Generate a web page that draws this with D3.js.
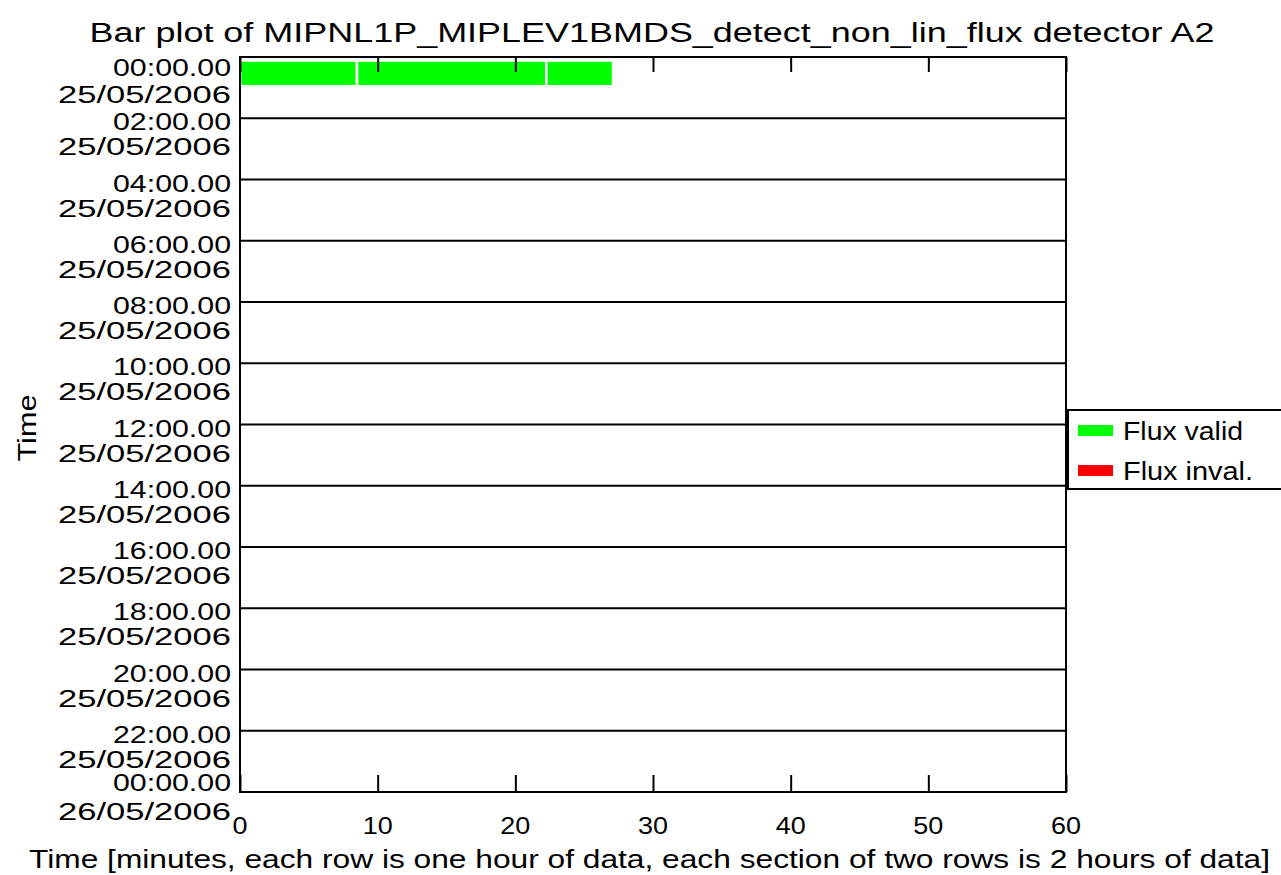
<!DOCTYPE html>
<html>
<head>
<meta charset="utf-8">
<script src="https://cdn.jsdelivr.net/npm/d3@7"></script>
<style>
  html, body { margin: 0; padding: 0; background: #fff; }
  svg text { font-family: "Liberation Sans", Arial, sans-serif; fill: #000; }
</style>
</head>
<body>
<svg id="chart" width="1281" height="875"></svg>
<script>
// ---- data ----
const chartTitle = "Bar plot of MIPNL1P_MIPLEV1BMDS_detect_non_lin_flux detector A2";
const xAxisTitle = "Time [minutes, each row is one hour of data, each section of two rows is 2 hours of data]";
const yAxisTitle = "Time";
const xTickValues = [0, 10, 20, 30, 40, 50, 60];
const xTickLabels = ["0", "10", "20", "30", "40", "50", "60"];
const sectionHours = [0, 2, 4, 6, 8, 10, 12, 14, 16, 18, 20, 22, 24];
const sectionTimeLabels = ["00:00.00", "02:00.00", "04:00.00", "06:00.00", "08:00.00", "10:00.00",
  "12:00.00", "14:00.00", "16:00.00", "18:00.00", "20:00.00", "22:00.00", "00:00.00"];
const sectionDateLabels = ["25/05/2006", "25/05/2006", "25/05/2006", "25/05/2006", "25/05/2006", "25/05/2006",
  "25/05/2006", "25/05/2006", "25/05/2006", "25/05/2006", "25/05/2006", "25/05/2006", "26/05/2006"];
// valid-flux segments: row (hour index), start minute, end minute
const validRows   = [0, 0, 0];
const validStarts = [0, 8.5, 22.25];
const validEnds   = [8.5, 22.25, 27.1];
// invalid-flux segments (none)
const invalidRows = [];
const invalidStarts = [];
const invalidEnds = [];
const legendLabels = ["Flux valid", "Flux inval."];
const legendColors = ["#00ff00", "#ff0000"];

// ---- layout ----
const svg = d3.select("#chart");
const L = 240, R = 1066, T = 57, B = 792;
const x = d3.scaleLinear().domain([0, 60]).range([L, R]);
const y = d3.scaleLinear().domain([0, 24]).range([T, B]);

// bars
function drawBars(rows, starts, ends, color) {
  const data = rows.map((r, i) => ({ r, s: starts[i], e: ends[i] }));
  svg.append("g").selectAll("rect").data(data).enter().append("rect")
    .attr("x", d => x(d.s))
    .attr("width", d => x(d.e) - x(d.s))
    .attr("y", d => y(d.r + 0.113))
    .attr("height", d => y(d.r + 0.955) - y(d.r + 0.113))
    .attr("fill", color)
    .attr("stroke", "#fff")
    .attr("stroke-width", 2.6);
}
drawBars(validRows, validStarts, validEnds, legendColors[0]);
drawBars(invalidRows, invalidStarts, invalidEnds, legendColors[1]);

// section lines
svg.append("g").selectAll("line").data(sectionHours.slice(1, -1)).enter().append("line")
  .attr("x1", L).attr("x2", R)
  .attr("y1", d => y(d)).attr("y2", d => y(d))
  .attr("stroke", "#000").attr("stroke-width", 2);

// x axes (top and bottom, inward ticks)
const bottomAxis = d3.axisBottom(x).tickValues(xTickValues).tickSize(-17).tickFormat("");
const topAxis = d3.axisTop(x).tickValues(xTickValues).tickSize(-15).tickFormat("");
const gb = svg.append("g").attr("transform", `translate(0,${B})`).call(bottomAxis);
const gt = svg.append("g").attr("transform", `translate(0,${T})`).call(topAxis);
[gb, gt].forEach(g => {
  g.select(".domain").remove();
  g.selectAll(".tick line").attr("stroke", "#000").attr("stroke-width", 2);
});

// plot border
svg.append("rect").attr("x", L).attr("y", T).attr("width", R - L).attr("height", B - T)
  .attr("fill", "none").attr("stroke", "#000").attr("stroke-width", 2);

// x tick labels
svg.append("g").selectAll("text").data(xTickValues).enter().append("text")
  .attr("x", d => x(d)).attr("y", 834)
  .attr("text-anchor", "middle")
  .attr("font-size", 24)
  .attr("textLength", (d, i) => xTickLabels[i].length * 15)
  .attr("lengthAdjust", "spacingAndGlyphs")
  .text((d, i) => xTickLabels[i]);

// y section labels
const n = sectionHours.length;
function timeOff(i) { return i === 0 ? 19 : (i === n - 1 ? -1 : 12); }
function dateOff(i) { return i === 0 ? 46 : (i === n - 1 ? 28 : 37); }
const yl = svg.append("g");
yl.selectAll("text.t").data(sectionHours).enter().append("text").attr("class", "t")
  .attr("x", 231).attr("y", (d, i) => y(d) + timeOff(i))
  .attr("text-anchor", "end").attr("font-size", 23)
  .attr("textLength", 118).attr("lengthAdjust", "spacingAndGlyphs")
  .text((d, i) => sectionTimeLabels[i]);
yl.selectAll("text.d").data(sectionHours).enter().append("text").attr("class", "d")
  .attr("x", 231).attr("y", (d, i) => y(d) + dateOff(i))
  .attr("text-anchor", "end").attr("font-size", 23)
  .attr("textLength", 173).attr("lengthAdjust", "spacingAndGlyphs")
  .text((d, i) => sectionDateLabels[i]);

// title
svg.append("text").attr("x", 652).attr("y", 42).attr("text-anchor", "middle")
  .attr("font-size", 27).attr("textLength", 1125).attr("lengthAdjust", "spacingAndGlyphs")
  .text(chartTitle);

// x axis title
svg.append("text").attr("x", 649.5).attr("y", 868).attr("text-anchor", "middle")
  .attr("font-size", 26).attr("textLength", 1241).attr("lengthAdjust", "spacingAndGlyphs")
  .text(xAxisTitle);

// y axis title
svg.append("text").attr("transform", "translate(36,428) rotate(-90)")
  .attr("text-anchor", "middle").attr("font-size", 26)
  .attr("textLength", 67).attr("lengthAdjust", "spacingAndGlyphs")
  .text(yAxisTitle);

// legend
const lg = svg.append("g");
lg.append("rect").attr("x", 1068).attr("y", 410).attr("width", 240).attr("height", 79)
  .attr("fill", "#fff").attr("stroke", "#000").attr("stroke-width", 2);
const legY = d3.scalePoint().domain(legendLabels).range([430, 470]);
lg.selectAll("rect.sw").data(legendLabels).enter().append("rect").attr("class", "sw")
  .attr("x", 1078).attr("width", 35)
  .attr("y", d => legY(d) - 5).attr("height", 11)
  .attr("fill", (d, i) => legendColors[i]);
lg.selectAll("text").data(legendLabels).enter().append("text")
  .attr("x", 1123).attr("y", d => legY(d) + 10)
  .attr("font-size", 25)
  .attr("textLength", d => d === "Flux valid" ? 120 : 130)
  .attr("lengthAdjust", "spacingAndGlyphs")
  .text(d => d);
</script>
</body>
</html>
